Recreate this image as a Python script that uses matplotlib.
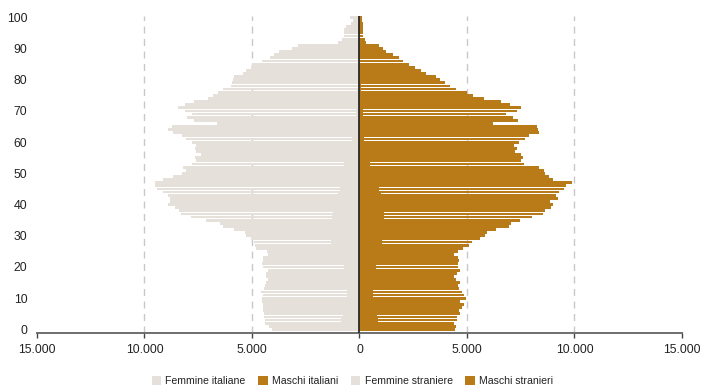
import numpy as np
import matplotlib
matplotlib.use('Agg')
import matplotlib.pyplot as plt
from matplotlib.ticker import FuncFormatter

plt.rcParams['font.family'] = ['Liberation Sans', 'DejaVu Sans']

ages = np.arange(0, 101)

# residenti per eta' (0..100)
femmine_italiane = [
    3200, 3340, 3540, 3540, 3640, 3680, 3770, 3820, 3860, 3920,
    3920, 3870, 3980, 3860, 3820, 3770, 3680, 3770, 3730, 3590,
    3770, 3720, 3550, 3440, 3140, 3120, 3570, 3570, 3580, 3680,
    3890, 3910, 4430, 4940, 5100, 5800, 6570, 7090, 7210, 7420,
    7780, 7690, 7690, 7790, 8130, 8490, 8670, 8690, 8330, 7880,
    7480, 7300, 7450, 7060, 6910, 6990, 6760, 7040, 7130, 7130,
    7360, 7690, 7920, 8370, 8620, 8450, 6390, 7480, 7820, 7600,
    7940, 8270, 7960, 7550, 6910, 6680, 6460, 6240, 5880, 5840,
    5800, 5760, 5350, 5210, 4980, 4940, 4480, 4110, 3930, 3700,
    3100, 2820, 1010, 790, 695, 695, 695, 600, 370, 320,
    415]
femmine_straniere = [
    850, 850, 840, 840, 790, 750, 700, 650, 610, 600,
    600, 600, 590, 570, 560, 560, 560, 560, 600, 650,
    700, 800, 920, 1030, 1100, 1170, 1230, 1280, 1310, 1350,
    1380, 1400, 1400, 1400, 1380, 1330, 1260, 1210, 1180, 1150,
    1120, 1120, 1120, 1110, 1000, 920, 840, 820, 800, 790,
    770, 760, 750, 720, 690, 650, 600, 560, 510, 470,
    420, 370, 330, 300, 280, 260, 230, 220, 200, 185,
    170, 160, 150, 140, 130, 120, 110, 100, 90, 80,
    75, 70, 60, 55, 50, 45, 40, 35, 30, 25,
    20, 20, 10, 5, 5, 5, 5, 5, 5, 5,
    5]
maschi_italiani = [
    3550, 3570, 3500, 3640, 3690, 3870, 3870, 4070, 4240, 4060,
    4340, 4240, 4130, 3970, 3920, 4010, 3820, 3730, 3840, 3950,
    3820, 3770, 3740, 3640, 3450, 3640, 3820, 4050, 4150, 4480,
    4680, 4760, 5190, 5810, 5920, 6330, 6870, 7370, 7490, 7800,
    7920, 7760, 8120, 8010, 8270, 8590, 8750, 9060, 8210, 8070,
    7960, 7980, 7810, 7140, 7030, 7160, 7090, 6830, 6950, 6860,
    7140, 7460, 7670, 8140, 8100, 8060, 6020, 7180, 6950, 6620,
    7170, 7390, 6890, 6480, 5660, 5200, 4930, 4430, 4120, 3940,
    3710, 3530, 3070, 2800, 2530, 2250, 1980, 1800, 1520, 1200,
    1060, 920, 275, 230, 180, 180, 180, 135, 135, 90,
    90]
maschi_stranieri = [
    900, 900, 880, 880, 830, 790, 740, 680, 610, 600,
    600, 610, 620, 640, 650, 650, 650, 650, 680, 710,
    750, 800, 870, 930, 930, 930, 980, 1030, 1070, 1110,
    1150, 1160, 1150, 1130, 1120, 1130, 1150, 1160, 1130, 1100,
    1070, 1090, 1110, 1120, 1000, 920, 850, 820, 780, 740,
    660, 590, 530, 500, 470, 435, 410, 390, 370, 320,
    270, 230, 210, 200, 190, 185, 180, 180, 180, 180,
    150, 140, 130, 120, 110, 100, 90, 80, 70, 60,
    55, 50, 45, 40, 35, 30, 25, 20, 20, 15,
    15, 10, 5, 5, 5, 5, 5, 5, 5, 5,
    5]

col_f = '#e6e0da'
col_m = '#b97b18'

fig = plt.figure(figsize=(7.02, 3.9), dpi=100)
ax = fig.add_axes([0.0527, 0.1462, 0.9188, 0.8135])

fs = -np.array(femmine_straniere)
fi = -np.array(femmine_italiane)
ms = np.array(maschi_stranieri)
mi = np.array(maschi_italiani)

b_fs = ax.barh(ages, fs, height=1.0, color=col_f, linewidth=0)
b_fi = ax.barh(ages, fi, left=fs, height=0.9, color=col_f, linewidth=0)
b_ms = ax.barh(ages, ms, height=1.0, color=col_m, linewidth=0)
b_mi = ax.barh(ages, mi, left=ms, height=0.9, color=col_m, linewidth=0)

for v in [-10000, -5000, 5000, 10000]:
    ax.axvline(v, color='#c8c8c8', lw=1, ls=(0, (5, 4)), zorder=0)
ax.axvline(0, color='#2a2a2a', lw=1.3, zorder=3)

ax.set_xlim(-15000, 15000)
ax.set_ylim(-1.14, 100.5)
ax.set_xticks(np.arange(-15000, 15001, 5000))
ax.xaxis.set_major_formatter(FuncFormatter(lambda v, p: '{:,.0f}'.format(abs(v)).replace(',', '.')))
ax.set_yticks(np.arange(0, 101, 10))

for s in ['top', 'right', 'left']:
    ax.spines[s].set_visible(False)
ax.spines['bottom'].set_color('#6e6e6e')
ax.spines['bottom'].set_linewidth(1.4)
ax.tick_params(axis='x', length=3.5, width=1, color='#444444', pad=4.5, labelsize=8.8, labelcolor='#222222')
ax.tick_params(axis='y', length=0, pad=7, labelsize=8.8, labelcolor='#222222')

ax.legend([b_fi, b_mi, b_fs, b_ms],
          ['Femmine italiane', 'Maschi italiani', 'Femmine straniere', 'Maschi stranieri'],
          loc='center', bbox_to_anchor=(0.502, 0.024), bbox_transform=fig.transFigure,
          ncol=4, frameon=False, handlelength=0.9, handleheight=0.95, handletextpad=0.4,
          columnspacing=1.2, prop={'size': 7.6}, labelcolor='#222222')

fig.savefig('out.png', dpi=100)
